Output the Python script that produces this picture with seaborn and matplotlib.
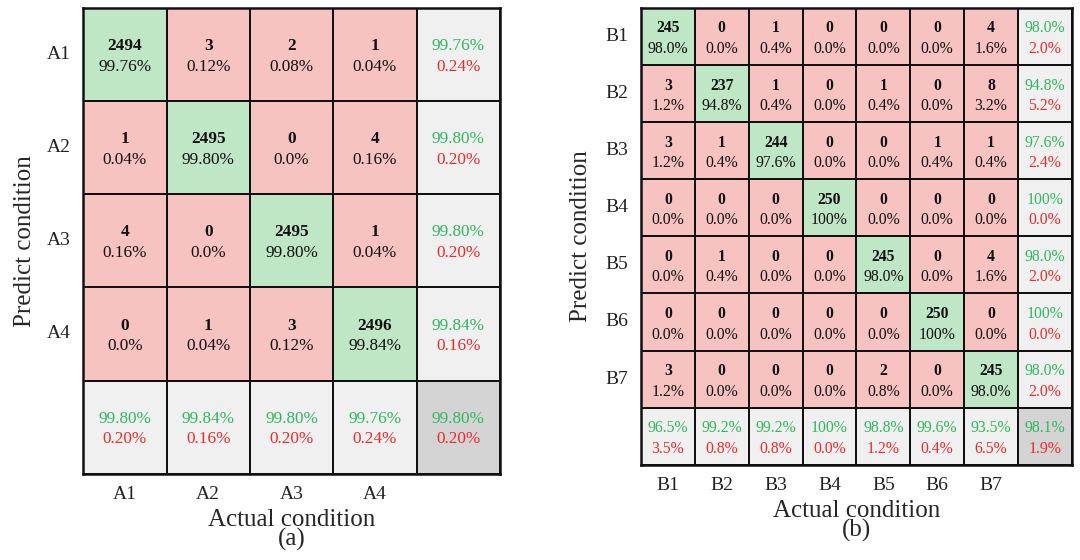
import numpy as np
import matplotlib
matplotlib.use('Agg')
import matplotlib.pyplot as plt
import seaborn as sns
from matplotlib.colors import ListedColormap

sns.set_style('white')
plt.rcParams['font.family'] = ['Liberation Serif', 'DejaVu Serif']

# --- data (a) ---
labels_a = ['A1', 'A2', 'A3', 'A4']
counts_a = [[2494, 3, 2, 1],
            [1, 2495, 0, 4],
            [4, 0, 2495, 1],
            [0, 1, 3, 2496]]
pct_a = [['99.76%', '0.12%', '0.08%', '0.04%'],
         ['0.04%', '99.80%', '0.0%', '0.16%'],
         ['0.16%', '0.0%', '99.80%', '0.04%'],
         ['0.0%', '0.04%', '0.12%', '99.84%']]
row_ok_a = ['99.76%', '99.80%', '99.80%', '99.84%']
row_err_a = ['0.24%', '0.20%', '0.20%', '0.16%']
col_ok_a = ['99.80%', '99.84%', '99.80%', '99.76%']
col_err_a = ['0.20%', '0.16%', '0.20%', '0.24%']
total_a = ('99.80%', '0.20%')

# --- data (b) ---
labels_b = ['B1', 'B2', 'B3', 'B4', 'B5', 'B6', 'B7']
counts_b = [[245, 0, 1, 0, 0, 0, 4],
            [3, 237, 1, 0, 1, 0, 8],
            [3, 1, 244, 0, 0, 1, 1],
            [0, 0, 0, 250, 0, 0, 0],
            [0, 1, 0, 0, 245, 0, 4],
            [0, 0, 0, 0, 0, 250, 0],
            [3, 0, 0, 0, 2, 0, 245]]
pct_b = [['98.0%', '0.0%', '0.4%', '0.0%', '0.0%', '0.0%', '1.6%'],
         ['1.2%', '94.8%', '0.4%', '0.0%', '0.4%', '0.0%', '3.2%'],
         ['1.2%', '0.4%', '97.6%', '0.0%', '0.0%', '0.4%', '0.4%'],
         ['0.0%', '0.0%', '0.0%', '100%', '0.0%', '0.0%', '0.0%'],
         ['0.0%', '0.4%', '0.0%', '0.0%', '98.0%', '0.0%', '1.6%'],
         ['0.0%', '0.0%', '0.0%', '0.0%', '0.0%', '100%', '0.0%'],
         ['1.2%', '0.0%', '0.0%', '0.0%', '0.8%', '0.0%', '98.0%']]
row_ok_b = ['98.0%', '94.8%', '97.6%', '100%', '98.0%', '100%', '98.0%']
row_err_b = ['2.0%', '5.2%', '2.4%', '0.0%', '2.0%', '0.0%', '2.0%']
col_ok_b = ['96.5%', '99.2%', '99.2%', '100%', '98.8%', '99.6%', '93.5%']
col_err_b = ['3.5%', '0.8%', '0.8%', '0.0%', '1.2%', '0.4%', '6.5%']
total_b = ('98.1%', '1.9%')

PINK = '#f6c3c1'
GREEN = '#bfe6c5'
LGRAY = '#f0f0f0'
DGRAY = '#d4d4d4'
TGREEN = '#2fb85e'
TRED = '#ee2b2b'


def draw_cm(ax, labels, counts, pct, row_ok, row_err, col_ok, col_err, total, fs, tfs, gap, shift):
    n = len(labels)
    cat = np.zeros((n + 1, n + 1))
    for i in range(n):
        cat[i, i] = 1
        cat[i, n] = 2
        cat[n, i] = 2
    cat[n, n] = 3
    cmap = ListedColormap([PINK, GREEN, LGRAY, DGRAY])
    sns.heatmap(cat, ax=ax, cmap=cmap, vmin=-0.5, vmax=3.5, cbar=False,
                linewidths=1.3, linecolor='#111111', square=False)

    def pair(x, y, top, bot, c1, c2, bold):
        ax.text(x, y + shift - gap, top, ha='center', va='bottom', fontsize=fs,
                fontweight='bold' if bold else 'normal', color=c1)
        ax.text(x, y + shift + gap, bot, ha='center', va='top', fontsize=fs, color=c2)

    for i in range(n):
        for j in range(n):
            pair(j + 0.5, i + 0.5, str(counts[i][j]), pct[i][j], '#111111', '#111111', True)
        pair(n + 0.5, i + 0.5, row_ok[i], row_err[i], TGREEN, TRED, False)
        pair(i + 0.5, n + 0.5, col_ok[i], col_err[i], TGREEN, TRED, False)
    pair(n + 0.5, n + 0.5, total[0], total[1], TGREEN, TRED, False)

    ax.set_xticks(np.arange(n) + 0.5)
    ax.set_xticklabels(labels, fontsize=tfs)
    ax.set_yticks(np.arange(n) + 0.5)
    ax.set_yticklabels(labels, fontsize=tfs, rotation=0)
    ax.tick_params(length=0, pad=9, colors='#222222')
    for s in ax.spines.values():
        s.set_visible(True)
        s.set_linewidth(1.8)
        s.set_color('#111111')


fig = plt.figure(figsize=(10.8, 5.6), dpi=100)
ax1 = fig.add_axes([0.077, 0.154, 0.386, 0.832])
ax2 = fig.add_axes([0.5935, 0.170, 0.399, 0.816])

draw_cm(ax1, labels_a, counts_a, pct_a, row_ok_a, row_err_a, col_ok_a, col_err_a, total_a,
        12.4, 14, 0.025, 0.02)
draw_cm(ax2, labels_b, counts_b, pct_b, row_ok_b, row_err_b, col_ok_b, col_err_b, total_b,
        11.3, 14, 0.04, 0.04)

ax1.set_ylabel('Predict condition', fontsize=18, labelpad=8)
ax2.set_ylabel('Predict condition', fontsize=18, labelpad=10)
ax1.set_xlabel('Actual condition\n(a)', fontsize=18, labelpad=4, linespacing=0.85)
ax2.set_xlabel('Actual condition\n(b)', fontsize=18, labelpad=4, linespacing=0.85)

fig.savefig('out.png', dpi=100)
